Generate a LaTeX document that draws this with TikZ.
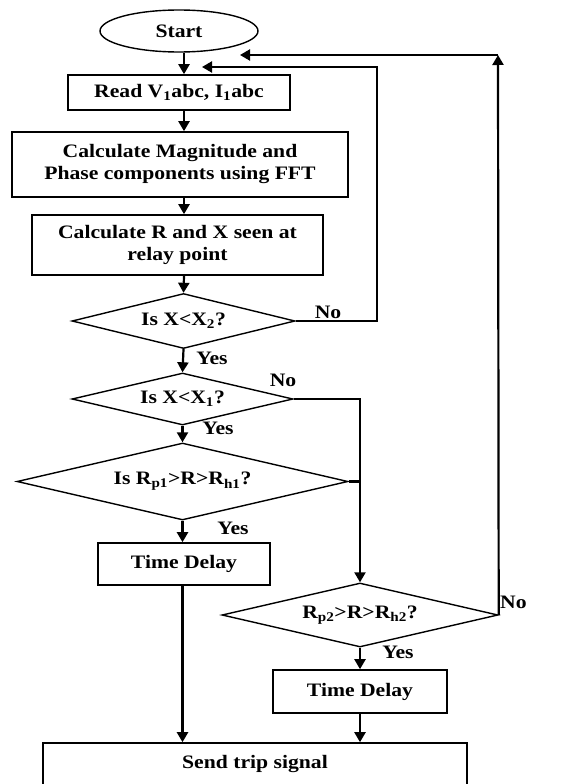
\documentclass[tikz,border=0pt]{standalone}
\usepackage{fontspec}
\setmainfont{Liberation Serif}[FakeStretch=1.14]
\usetikzlibrary{shapes.geometric,arrows.meta,calc}
\begin{document}
\begin{tikzpicture}[x=1pt,y=-1pt,
  every node/.style={font=\fontsize{19}{22}\selectfont\bfseries},
  box/.style={draw,line width=1.6pt,rectangle,inner sep=0pt,align=center},
  dia/.style={draw,line width=1.4pt,diamond,inner sep=0pt},
  conn/.style={line width=2.2pt},
  arr/.style={conn,-{Triangle[length=10pt,width=11pt]}},
  lbl/.style={inner sep=0pt}]
\useasboundingbox (0,0) rectangle (561,784);
\clip (0,0) rectangle (561,784);
\node[draw,line width=1.4pt,ellipse,minimum width=158pt,minimum height=42pt,inner sep=0pt] (start) at (179,31) {Start};
\node[box,minimum width=222pt,minimum height=35pt] (read) at (179,92.5) {Read V\textsubscript{1}abc, I\textsubscript{1}abc};
\node[box,minimum width=336pt,minimum height=65pt] (mag) at (180,164.5) {Calculate Magnitude and\\Phase components using FFT};
\node[box,minimum width=291pt,minimum height=60pt] (rx) at (177.5,245) {Calculate R and X seen at\\relay point};
\node[dia,aspect=4.05,minimum width=223pt,minimum height=55pt] (d1) at (183.5,321) {Is X<X\textsubscript{2}?};
\node[dia,aspect=4.25,minimum width=221pt,minimum height=52pt] (d2) at (182.5,399) {Is X<X\textsubscript{1}?};
\node[dia,aspect=4.3,minimum width=331pt,minimum height=77pt] (d3) at (182.5,481.5) {Is R\textsubscript{p1}>R>R\textsubscript{h1}?};
\node[box,minimum width=172pt,minimum height=42pt] (td1) at (184,564) {Time Delay};
\node[dia,aspect=4.3,minimum width=276pt,minimum height=64pt] (d4) at (360,615) {R\textsubscript{p2}>R>R\textsubscript{h2}?};
\node[box,minimum width=174pt,minimum height=43pt] (td2) at (360,691.5) {Time Delay};
\node[box,minimum width=424pt,minimum height=60pt,text depth=22pt] (send) at (255,773) {Send trip signal};
% column
\coordinate (cx) at (184,0);
\draw[arr] (start.south -| cx) -- (read.north -| cx);
\draw[arr] (read.south -| cx) -- (mag.north -| cx);
\draw[arr] (mag.south -| cx) -- (rx.north -| cx);
\draw[arr] (rx.south -| cx) -- (d1.north);
\draw[arr] (d1.south) -- (d2.north);
\draw[arr] (d2.south) -- (d3.north);
\draw[arr] (d3.south) -- (td1.north -| d3.south);
\draw[arr] (td1.south -| d3.south) -- (send.north -| d3.south);
% inner loop
\coordinate (l1) at (377,67);
\coordinate (t1) at (202,67);
\draw[arr] (d1.east) -| (l1) -- (t1);
% d2 no branch
\draw[arr] (d2.east) -| (d4.north);
\draw[conn] (d3.east) -- (d3.east -| d4.north);
% outer loop
\coordinate (l2) at (498,55);
\coordinate (t2) at (240,55);
\draw[arr] (d4.east) -- (l2);
\draw[arr] (l2) -- (t2);
% d4 yes
\draw[arr] (d4.south) -- (td2.north);
\draw[arr] (td2.south) -- (send.north -| td2.south);
% labels
\node[lbl] (n1) at (328,312) {No};
\node[lbl] (y1) at (212,358) {Yes};
\node[lbl] (n2) at (283,380) {No};
\node[lbl] (y2) at (218,428) {Yes};
\node[lbl] (y3) at (233,528) {Yes};
\node[lbl,anchor=west] (n4) at (500,602) {No};
\node[lbl] (y4) at (398,652) {Yes};
\end{tikzpicture}
\end{document}
